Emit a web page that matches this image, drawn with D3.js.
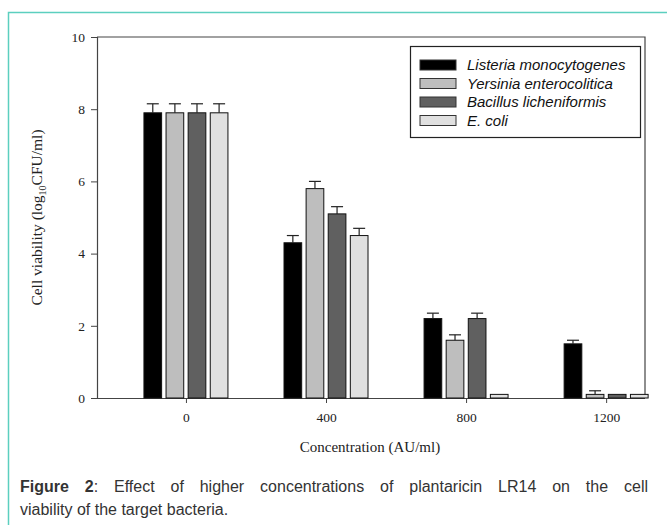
<!DOCTYPE html>
<html lang="en">
<head>
<meta charset="utf-8" />
<script src="https://d3js.org/d3.v7.min.js"></script>
<style>
  body { margin: 0; background: #fff; }
  .cap {
    position: absolute; left: 20px; width: 628px;
    font-family: "Liberation Sans", Arial, sans-serif; font-size: 16px;
    line-height: 23px; color: #333; white-space: nowrap;
  }
  #cap1 { top: 475px; text-align: justify; text-align-last: justify; }
  #cap2 { top: 498px; }
</style>
</head>
<body>
<script>
  const w = 667;
  const h = 525;

  // data
  const concentrations = [0, 400, 800, 1200];
  const series = ["Listeria monocytogenes", "Yersinia enterocolitica", "Bacillus licheniformis", "E. coli"];
  const colors = ["#000000", "#bebebe", "#606060", "#e0e0e0"];
  const listeria = [7.9, 4.3, 2.2, 1.5];
  const yersinia = [7.9, 5.8, 1.6, 0.1];
  const bacillus = [7.9, 5.1, 2.2, 0.1];
  const ecoli = [7.9, 4.5, 0.1, 0.1];
  const listeriaErr = [0.25, 0.2, 0.15, 0.1];
  const yersiniaErr = [0.25, 0.2, 0.15, 0.1];
  const bacillusErr = [0.25, 0.2, 0.15, 0];
  const ecoliErr = [0.25, 0.2, 0, 0];
  const yTicks = [0, 2, 4, 6, 8, 10];

  const values = [listeria, yersinia, bacillus, ecoli];
  const errors = [listeriaErr, yersiniaErr, bacillusErr, ecoliErr];

  const rows = [];
  series.forEach((s, i) => {
    concentrations.forEach((c, j) => {
      rows.push({ series: s, i: i, conc: c, v: values[i][j], e: errors[i][j] });
    });
  });

  const svg = d3.select("body").append("svg")
    .attr("width", w)
    .attr("height", h)
    .style("position", "absolute").style("left", 0).style("top", 0);

  // teal frame of the figure panel
  svg.append("path")
    .attr("d", "M8.5," + (h + 2) + " V12.5 H" + (w + 2))
    .attr("fill", "none")
    .attr("stroke", "#5ccfbf")
    .attr("stroke-width", 1.5);

  const plotL = 97, plotR = 645, plotT = 37, plotB = 398;

  const x = d3.scaleLinear().domain([-254, 1311]).range([plotL, plotR]);
  const y = d3.scaleLinear().domain([0, 10]).range([plotB, plotT]);
  const inner = d3.scaleBand().domain(series).range([-42, 42]).paddingInner(0.2);

  // frame top and right
  svg.append("path")
    .attr("d", `M${plotL},${plotT} H${plotR} V${plotB}`)
    .attr("fill", "none").attr("stroke", "#444").attr("stroke-width", 1.2);

  const yAxis = d3.axisLeft(y).tickValues(yTicks).tickSize(6).tickPadding(6);
  const gy = svg.append("g").attr("transform", `translate(${plotL},0)`).call(yAxis);

  const xAxis = d3.axisBottom(x).tickValues(concentrations).tickFormat(d3.format("d"))
    .tickSize(5).tickPadding(9);
  const gx = svg.append("g").attr("transform", `translate(0,${plotB})`).call(xAxis);

  [gx, gy].forEach(g => {
    g.select(".domain").attr("stroke", "#444").attr("stroke-width", 1.2);
    g.selectAll(".tick line").attr("stroke", "#444");
    g.selectAll("text").attr("font-family", "'Liberation Serif', 'Times New Roman', serif")
      .attr("font-size", 13.5).attr("fill", "#222");
  });
  gx.select(".domain").attr("d", `M${plotL - 6},0.5H${plotR}`);

  // bars
  svg.append("g").selectAll("rect")
    .data(rows)
    .join("rect")
    .attr("x", d => x(d.conc) + inner(d.series))
    .attr("y", d => y(d.v))
    .attr("width", inner.bandwidth())
    .attr("height", d => y(0) - y(d.v))
    .attr("fill", d => colors[d.i])
    .attr("stroke", "#111")
    .attr("stroke-width", 1);

  // error bars (upper only)
  const eb = svg.append("g").selectAll("g")
    .data(rows.filter(d => d.e > 0))
    .join("g")
    .attr("stroke", "#222").attr("stroke-width", 1.2);
  eb.append("line")
    .attr("x1", d => x(d.conc) + inner(d.series) + inner.bandwidth() / 2)
    .attr("x2", d => x(d.conc) + inner(d.series) + inner.bandwidth() / 2)
    .attr("y1", d => y(d.v))
    .attr("y2", d => y(d.v + d.e));
  eb.append("line")
    .attr("x1", d => x(d.conc) + inner(d.series) + inner.bandwidth() / 2 - 6)
    .attr("x2", d => x(d.conc) + inner(d.series) + inner.bandwidth() / 2 + 6)
    .attr("y1", d => y(d.v + d.e))
    .attr("y2", d => y(d.v + d.e));

  // axis titles
  svg.append("text")
    .attr("x", 370)
    .attr("y", 452)
    .attr("text-anchor", "middle")
    .attr("font-family", "'Liberation Serif', 'Times New Roman', serif")
    .attr("font-size", 15)
    .attr("fill", "#222")
    .text("Concentration (AU/ml)");

  const yt = svg.append("text")
    .attr("transform", `translate(42,${(plotT + plotB) / 2}) rotate(-90)`)
    .attr("text-anchor", "middle")
    .attr("font-family", "'Liberation Serif', 'Times New Roman', serif")
    .attr("font-size", 15.5)
    .attr("fill", "#222");
  yt.append("tspan").text("Cell viability (log");
  yt.append("tspan").attr("font-size", 10).attr("dy", 4).text("10");
  yt.append("tspan").attr("dy", -4).text("CFU/ml)");

  // legend
  const legend = svg.append("g");
  legend.append("rect")
    .attr("x", 410.5).attr("y", 46.5).attr("width", 230).attr("height", 91)
    .attr("fill", "#fff").attr("stroke", "#222").attr("stroke-width", 1.2);
  const li = legend.selectAll("g.item")
    .data(series)
    .join("g")
    .attr("class", "item")
    .attr("transform", (d, i) => `translate(420,${65 + i * 18.5})`);
  li.append("rect")
    .attr("x", 0).attr("y", -5).attr("width", 36).attr("height", 10)
    .attr("fill", (d, i) => colors[i])
    .attr("stroke", "#333").attr("stroke-width", 1);
  li.append("text")
    .attr("x", 47).attr("y", 5)
    .attr("font-family", "'Liberation Sans', Arial, sans-serif")
    .attr("font-style", "italic")
    .attr("font-size", 15)
    .attr("fill", "#111")
    .text(d => d);

  d3.select("body").append("div")
    .attr("class", "cap").attr("id", "cap1")
    .html("<b>Figure 2</b>: Effect of higher concentrations of plantaricin LR14 on the cell");
  d3.select("body").append("div")
    .attr("class", "cap").attr("id", "cap2")
    .text("viability of the target bacteria.");
</script>
</body>
</html>
